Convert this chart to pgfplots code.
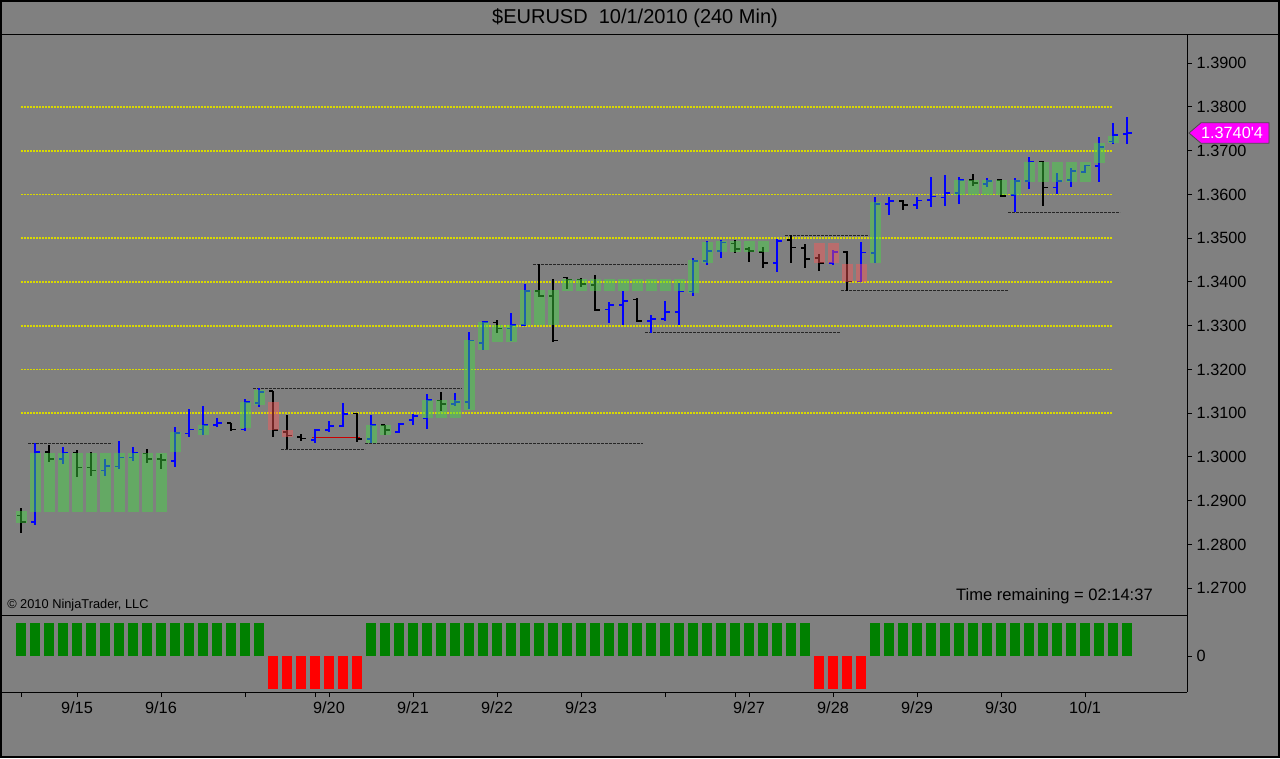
\documentclass[border=0pt]{standalone}
\usepackage{pgfplots}
\pgfplotsset{compat=1.18}
\usepackage{pgfplotstable}
\usepackage{fontspec}
\setmainfont{Liberation Sans}
\newlength\px \setlength\px{0.75pt}
\definecolor{bg}{RGB}{128,128,128}
\definecolor{boxgreen}{RGB}{66,221,66}
\definecolor{boxred}{RGB}{255,88,88}
\definecolor{indgreen}{RGB}{0,128,0}
\definecolor{indred}{RGB}{255,0,0}
\definecolor{ylw}{RGB}{255,255,0}
\definecolor{tagmag}{RGB}{255,0,255}
\pgfdeclareplotmark{ohlcright}{\pgfpathmoveto{\pgfqpoint{0pt}{0pt}}\pgfpathlineto{\pgfqpoint{\pgfplotmarksize}{0pt}}\pgfusepathqstroke}
\pgfdeclareplotmark{ohlcleft}{\pgfpathmoveto{\pgfqpoint{0pt}{0pt}}\pgfpathlineto{\pgfqpoint{-\pgfplotmarksize}{0pt}}\pgfusepathqstroke}

\pgfplotstableread{
x o h l c
1 1.2851 1.3031 1.2845 1.3011
3 1.2995 1.3022 1.2983 1.3010
6 1.2969 1.2995 1.2956 1.2979
7 1.2978 1.3037 1.2972 1.2999
8 1.2999 1.3022 1.2991 1.3010
11 1.2991 1.3068 1.2978 1.3055
12 1.3054 1.3109 1.3046 1.3063
13 1.3063 1.3117 1.3051 1.3073
14 1.3073 1.3088 1.3068 1.3078
16 1.3063 1.3132 1.3060 1.3126
17 1.3123 1.3157 1.3115 1.3149
21 1.3039 1.3063 1.3033 1.3062
22 1.3062 1.3083 1.3057 1.3071
23 1.3071 1.3123 1.3068 1.3098
25 1.3041 1.3096 1.3031 1.3073
27 1.3057 1.3077 1.3055 1.3075
28 1.3084 1.3098 1.3073 1.3094
29 1.3088 1.3143 1.3063 1.3130
31 1.3121 1.3147 1.3117 1.3126
32 1.3126 1.3286 1.3109 1.3266
33 1.3260 1.3311 1.3245 1.3309
35 1.3294 1.3330 1.3266 1.3302
36 1.3302 1.3395 1.3299 1.3379
42 1.3337 1.3355 1.3306 1.3347
43 1.3347 1.3380 1.3302 1.3357
45 1.3311 1.3325 1.3284 1.3315
46 1.3315 1.3357 1.3311 1.3331
47 1.3331 1.3398 1.3302 1.3378
48 1.3378 1.3454 1.3368 1.3448
49 1.3448 1.3494 1.3439 1.3471
50 1.3471 1.3496 1.3455 1.3490
54 1.3443 1.3498 1.3423 1.3494
58 1.3444 1.3473 1.3439 1.3469
60 1.3401 1.3492 1.3401 1.3467
61 1.3466 1.3595 1.3443 1.3578
62 1.3578 1.3594 1.3553 1.3585
64 1.3576 1.3595 1.3566 1.3586
65 1.3587 1.3641 1.3572 1.3595
66 1.3593 1.3645 1.3574 1.3603
67 1.3603 1.3641 1.3578 1.3633
69 1.3624 1.3637 1.3616 1.3631
71 1.3599 1.3637 1.3559 1.3631
72 1.3631 1.3685 1.3612 1.3675
74 1.3616 1.3650 1.3601 1.3631
75 1.3633 1.3660 1.3616 1.3654
76 1.3652 1.3667 1.3648 1.3666
77 1.3665 1.3732 1.3629 1.3709
78 1.3721 1.3764 1.3715 1.3736
79 1.3738 1.3778 1.3715 1.37404
}\ohlcup

\pgfplotstableread{
x o h l c
0 1.2866 1.2884 1.2826 1.2851
2 1.3011 1.3027 1.2989 1.2995
4 1.3010 1.3016 1.2955 1.2976
5 1.2976 1.3011 1.2956 1.2969
9 1.3008 1.3019 1.2986 1.2995
10 1.2995 1.3007 1.2973 1.2993
15 1.3078 1.3078 1.3059 1.3063
18 1.3151 1.3151 1.3046 1.3062
19 1.3057 1.3096 1.3018 1.3049
20 1.3046 1.3052 1.3037 1.3042
24 1.3099 1.3100 1.3035 1.3041
26 1.3073 1.3073 1.3050 1.3062
30 1.3129 1.3149 1.3106 1.3121
34 1.3307 1.3313 1.3284 1.3294
37 1.3379 1.3441 1.3366 1.3368
38 1.3368 1.3406 1.3263 1.3266
39 1.3410 1.3412 1.3383 1.3406
40 1.3406 1.3408 1.3388 1.3395
41 1.3393 1.3416 1.3334 1.3336
44 1.3360 1.3363 1.3309 1.3311
51 1.3488 1.3496 1.3466 1.3475
52 1.3475 1.3481 1.3446 1.3471
53 1.3469 1.3481 1.3433 1.3443
55 1.3496 1.3507 1.3444 1.3479
56 1.3477 1.3487 1.3433 1.3452
57 1.3455 1.3465 1.3426 1.3444
59 1.3468 1.3471 1.3380 1.3401
63 1.3585 1.3587 1.3565 1.3576
68 1.3633 1.3647 1.3619 1.3626
70 1.3633 1.3635 1.3595 1.3597
73 1.3675 1.3677 1.3574 1.3616
}\ohlcdown

\pgfplotstableread{
x lo hi
0 1.2850 1.2877
1 1.2875 1.3010
2 1.2875 1.3010
3 1.2875 1.3010
4 1.2875 1.3010
5 1.2875 1.3010
6 1.2875 1.3010
7 1.2875 1.3010
8 1.2875 1.3010
9 1.2875 1.3010
10 1.2875 1.3010
11 1.3012 1.3058
13 1.3050 1.3073
16 1.3066 1.3126
17 1.3119 1.3153
25 1.3033 1.3073
26 1.3050 1.3073
29 1.3088 1.3130
30 1.3088 1.3130
31 1.3088 1.3130
32 1.3107 1.3267
33 1.3244 1.3309
34 1.3263 1.3302
35 1.3263 1.3302
36 1.3302 1.3382
37 1.3302 1.3382
38 1.3302 1.3382
39 1.3380 1.3406
40 1.3380 1.3406
41 1.3380 1.3406
42 1.3380 1.3406
43 1.3380 1.3406
44 1.3380 1.3406
45 1.3380 1.3406
46 1.3380 1.3406
47 1.3380 1.3406
48 1.3374 1.3450
49 1.3443 1.3492
50 1.3469 1.3494
51 1.3469 1.3494
52 1.3469 1.3494
53 1.3469 1.3494
61 1.3443 1.3583
67 1.3599 1.3633
68 1.3599 1.3633
69 1.3599 1.3633
70 1.3599 1.3633
71 1.3599 1.3633
72 1.3629 1.3675
73 1.3629 1.3675
74 1.3629 1.3675
75 1.3629 1.3675
76 1.3629 1.3675
77 1.3671 1.3717
78 1.3717 1.3734
}\boxesgreen

\pgfplotstableread{
x lo hi
18 1.3062 1.3125
19 1.3046 1.3062
57 1.3443 1.3490
58 1.3443 1.3490
59 1.3401 1.3441
60 1.3401 1.3441
}\boxesred

\begin{document}
\begin{tikzpicture}
\fill[bg] (0,0) rectangle (1280\px,-758\px);
\useasboundingbox (0,0) rectangle (1280\px,-758\px);
\draw[line width=1\px] (0,-34\px) -- (1280\px,-34\px);
\node[anchor=base, font=\fontsize{15}{18}\selectfont] at (635\px,-23.3\px) {\$EURUSD\ \ 10/1/2010 (240 Min)};

% main price panel
\begin{axis}[
  at={(0\px,-34\px)}, anchor=north west,
  scale only axis, width=1187\px, height=581\px,
  xmin=-1.5, xmax=83.2857,
  ymin=1.263874, ymax=1.396674,
  axis x line*=bottom, axis y line*=right,
  axis line style={-, line width=1\px, black},
  xtick=\empty,
  ytick={1.27,1.28,1.29,1.30,1.31,1.32,1.33,1.34,1.35,1.36,1.37,1.38,1.39},
  scaled y ticks=false,
  yticklabel style={/pgf/number format/.cd, fixed, fixed zerofill, precision=4, assume math mode=true},
  tick label style={font=\fontsize{12.2}{14}\selectfont, black},
  tick align=outside, major tick length=5\px,
  tick style={black, line width=1\px},
  clip mode=individual,
]
\pgfplotsinvokeforeach{1.31,1.32,1.33,1.34,1.35,1.36,1.37,1.38}{
  \addplot [ylw!85!black, line width=1.9\px, dash pattern=on 2\px off 1\px] coordinates {(0,#1) (78,#1)};
}
\addplot [black!85, line width=0.9\px, dash pattern=on 2.5\px off 1.5\px] coordinates {(0.5,1.3031) (6.5,1.3031)};
\addplot [black!85, line width=0.9\px, dash pattern=on 2.5\px off 1.5\px] coordinates {(16.6,1.3157) (31.5,1.3157)};
\addplot [black!85, line width=0.9\px, dash pattern=on 2.5\px off 1.5\px] coordinates {(18.6,1.3018) (24.6,1.3018)};
\addplot [black!85, line width=0.9\px, dash pattern=on 2.5\px off 1.5\px] coordinates {(24.6,1.3031) (44.4,1.3031)};
\addplot [black!85, line width=0.9\px, dash pattern=on 2.5\px off 1.5\px] coordinates {(36.6,1.3441) (47.6,1.3441)};
\addplot [black!85, line width=0.9\px, dash pattern=on 2.5\px off 1.5\px] coordinates {(44.6,1.3285) (58.5,1.3285)};
\addplot [black!85, line width=0.9\px, dash pattern=on 2.5\px off 1.5\px] coordinates {(54.6,1.3507) (60.6,1.3507)};
\addplot [black!85, line width=0.9\px, dash pattern=on 2.5\px off 1.5\px] coordinates {(58.6,1.3380) (70.5,1.3380)};
\addplot [black!85, line width=0.9\px, dash pattern=on 2.5\px off 1.5\px] coordinates {(70.5,1.3560) (78.5,1.3560)};
\addplot [red!80!black, line width=0.8\px] coordinates {(20.8,1.3044) (24.2,1.3044)};

% OHLC bars
\addplot [blue, only marks, mark=ohlcright, mark size=4.5\px, mark options={line width=1.6\px},
  error bars/.cd, y dir=both, y explicit, error mark=none, error bar style={line width=1.6\px, blue}]
  table [x=x, y=c, y error plus expr=\thisrow{h}-\thisrow{c}, y error minus expr=\thisrow{c}-\thisrow{l}] {\ohlcup};
\addplot [blue, only marks, mark=ohlcleft, mark size=4.5\px, mark options={line width=1.6\px}]
  table [x=x, y=o] {\ohlcup};
\addplot [black, only marks, mark=ohlcright, mark size=4.5\px, mark options={line width=1.6\px},
  error bars/.cd, y dir=both, y explicit, error mark=none, error bar style={line width=1.6\px, black}]
  table [x=x, y=c, y error plus expr=\thisrow{h}-\thisrow{c}, y error minus expr=\thisrow{c}-\thisrow{l}] {\ohlcdown};
\addplot [black, only marks, mark=ohlcleft, mark size=4.5\px, mark options={line width=1.6\px}]
  table [x=x, y=o] {\ohlcdown};

% translucent boxes
\addplot [draw=none, mark=none,
  error bars/.cd, y dir=plus, y explicit, error mark=none,
  error bar style={line width=11\px, draw=boxgreen, draw opacity=0.45}]
  table [x=x, y=lo, y error plus expr=\thisrow{hi}-\thisrow{lo}] {\boxesgreen};
\addplot [draw=none, mark=none,
  error bars/.cd, y dir=plus, y explicit, error mark=none,
  error bar style={line width=11\px, draw=boxred, draw opacity=0.45}]
  table [x=x, y=lo, y error plus expr=\thisrow{hi}-\thisrow{lo}] {\boxesred};

\coordinate (tag) at (axis cs:83.2857,1.37404);
\end{axis}

% indicator panel
\begin{axis}[
  at={(0\px,-615\px)}, anchor=north west,
  scale only axis, width=1187\px, height=77\px,
  xmin=-1.5, xmax=83.2857,
  ymin=-1.0909, ymax=1.2424,
  axis x line*=bottom, axis y line*=right,
  axis line style={-, line width=1\px, black},
  ytick={0}, yticklabels={0},
  xtick={0,4,10,16,21,22,28,34,40,46,51,52,58,64,70,76},
  xticklabels={,9/15,9/16,,,9/20,9/21,9/22,9/23,,,9/27,9/28,9/29,9/30,10/1},
  tick label style={font=\fontsize{12.2}{14}\selectfont, black},
  tick align=outside, major tick length=5\px,
  tick style={black, line width=1\px},
]
\addplot [ycomb, indgreen, line width=10.5\px] coordinates {
(0,1) (1,1) (2,1) (3,1) (4,1) (5,1) (6,1) (7,1) (8,1) (9,1) (10,1) (11,1) (12,1) (13,1) (14,1) (15,1) (16,1) (17,1)
(25,1) (26,1) (27,1) (28,1) (29,1) (30,1) (31,1) (32,1) (33,1) (34,1) (35,1) (36,1) (37,1) (38,1) (39,1) (40,1)
(41,1) (42,1) (43,1) (44,1) (45,1) (46,1) (47,1) (48,1) (49,1) (50,1) (51,1) (52,1) (53,1) (54,1) (55,1) (56,1)
(61,1) (62,1) (63,1) (64,1) (65,1) (66,1) (67,1) (68,1) (69,1) (70,1) (71,1) (72,1) (73,1) (74,1) (75,1) (76,1)
(77,1) (78,1) (79,1)};
\addplot [ycomb, indred, line width=10.5\px] coordinates {
(18,-1) (19,-1) (20,-1) (21,-1) (22,-1) (23,-1) (24,-1) (57,-1) (58,-1) (59,-1) (60,-1)};
\end{axis}

% price tag
\filldraw[fill=tagmag, draw=black!70, line width=0.8\px]
  ([xshift=2\px]tag) -- ++(12\px,10.3\px) -- ++(68\px,0) -- ++(0,-20.6\px) -- ++(-68\px,0) -- cycle;
\node[white, font=\fontsize{12.2}{14}\selectfont, inner sep=0pt] at ([xshift=45\px]tag) {1.3740\textquotesingle 4};

\node[anchor=base east, inner sep=0pt, font=\fontsize{12.4}{14}\selectfont] at (1153\px,-600\px) {Time remaining = 02:14:37};
\node[anchor=base west, font=\fontsize{9.6}{11}\selectfont, inner sep=0pt] at (7\px,-608\px) {\textcopyright{} 2010 NinjaTrader, LLC};

\draw[line width=2\px] (1\px,-1\px) rectangle (1279\px,-757\px);
\end{tikzpicture}
\end{document}
